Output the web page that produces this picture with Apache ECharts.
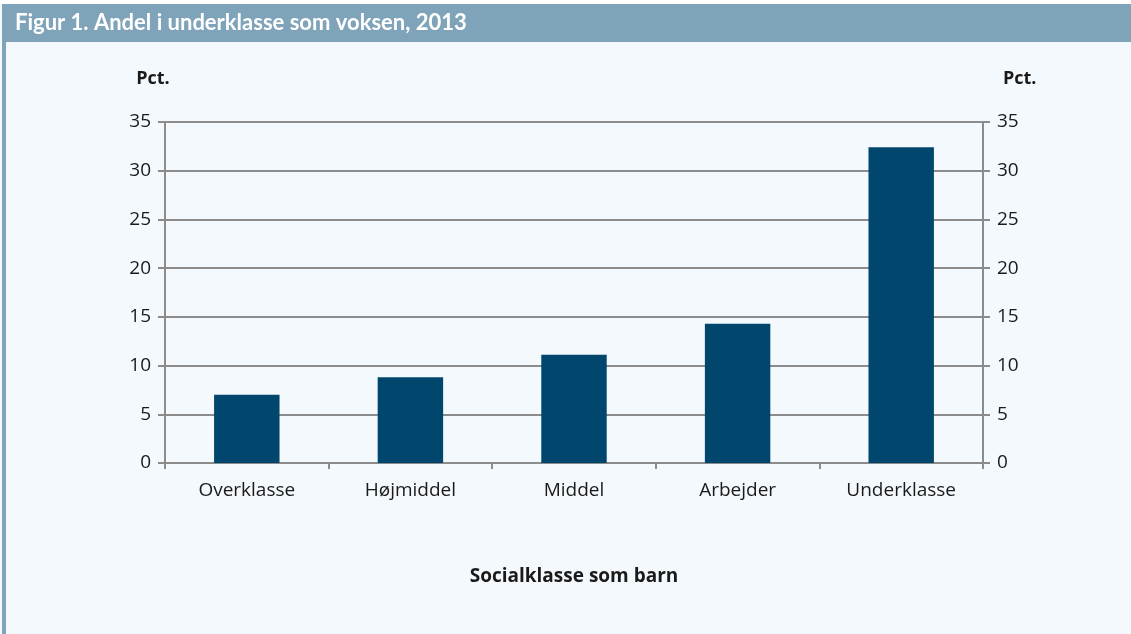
<!DOCTYPE html>
<html>
<head>
<meta charset="utf-8">
<script src="https://cdn.jsdelivr.net/npm/echarts@6/dist/echarts.min.js"></script>
<style>
  html, body { margin: 0; padding: 0; background: #ffffff; }
  #chart { width: 1131px; height: 634px; }
</style>
</head>
<body>
<div id="chart"></div>
<script>
const categories = ['Overklasse', 'Højmiddel', 'Middel', 'Arbejder', 'Underklasse'];
const shares = [7.0, 8.8, 11.1, 14.3, 32.4];
const titleText = 'Figur 1. Andel i underklasse som voksen, 2013';
const axisTitle = 'Socialklasse som barn';
const unitLabel = 'Pct.';

const chart = echarts.init(document.getElementById('chart'));

const labelFont = '"Open Sans", sans-serif';
const titleFont = 'Lato, sans-serif';
const axisGray = '#8c8c8c';
const textColor = '#1a1a1a';

const yAxisBase = {
    type: 'value',
    min: 0,
    max: 35,
    interval: 5,
    name: unitLabel,
    nameLocation: 'end',
    nameGap: 34,
    axisLine: { show: true, lineStyle: { color: axisGray, width: 2 } },
    axisTick: { show: true, length: 7, lineStyle: { color: axisGray, width: 2 } },
    axisLabel: { color: textColor, fontSize: 19, fontFamily: labelFont, margin: 14 }
};

const option = {
    backgroundColor: '#f4f9fd',
    animation: false,
    graphic: [
        { type: 'rect', shape: { x: 0, y: 0, width: 1131, height: 4 }, style: { fill: '#ffffff' } },
        { type: 'rect', shape: { x: 2, y: 4, width: 1129, height: 38 }, style: { fill: '#7fa3b8' } },
        { type: 'rect', shape: { x: 2, y: 42, width: 4, height: 592 }, style: { fill: '#7fa3b8' } },
        {
            type: 'text', left: 15, top: 12,
            style: { text: titleText, fill: '#ffffff', font: 'bold 22px ' + titleFont }
        }
    ],
    grid: { left: 165, right: 148, top: 122, bottom: 171 },
    xAxis: {
        type: 'category',
        data: categories,
        name: axisTitle,
        nameLocation: 'middle',
        nameGap: 104,
        nameTextStyle: { color: textColor, fontSize: 19, fontWeight: 'bold', fontFamily: labelFont },
        axisLine: { lineStyle: { color: axisGray, width: 2 } },
        axisTick: { show: true, length: 6, lineStyle: { color: axisGray, width: 2 } },
        axisLabel: { color: textColor, fontSize: 19, fontFamily: labelFont, margin: 18 }
    },
    yAxis: [
        Object.assign({}, yAxisBase, {
            position: 'left',
            nameTextStyle: { color: textColor, fontSize: 18, fontWeight: 'bold', fontFamily: labelFont, align: 'center', padding: [0, 24, 0, 0] },
            splitLine: { show: true, lineStyle: { color: axisGray, width: 2 } }
        }),
        Object.assign({}, yAxisBase, {
            position: 'right',
            nameTextStyle: { color: textColor, fontSize: 18, fontWeight: 'bold', fontFamily: labelFont, align: 'left', padding: [0, 0, 0, 20] },
            splitLine: { show: false }
        })
    ],
    series: [{
        type: 'bar',
        data: shares,
        yAxisIndex: 0,
        barWidth: '40%',
        itemStyle: { color: '#01466c' }
    }]
};

chart.setOption(option);
</script>
</body>
</html>
